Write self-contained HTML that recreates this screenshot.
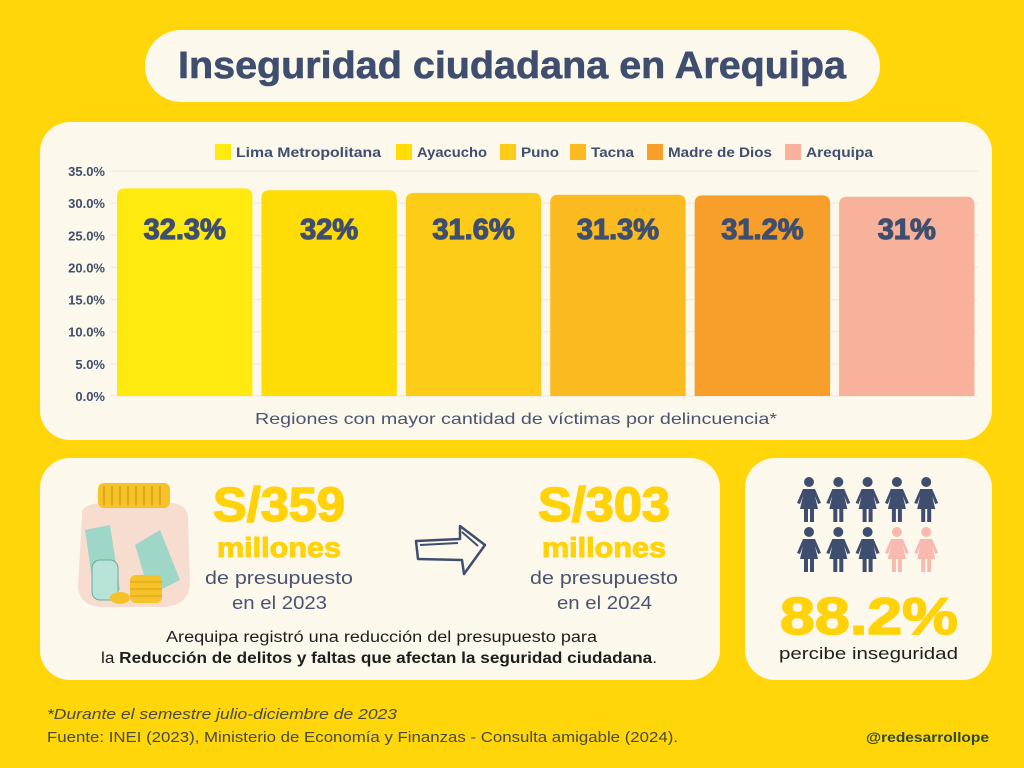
<!DOCTYPE html>
<html lang="es">
<head>
<meta charset="utf-8">
<title>Inseguridad ciudadana en Arequipa</title>
<style>
  html,body{margin:0;padding:0;background:#FFD60A;}
  svg{display:block;font-family:"Liberation Sans",sans-serif;}
</style>
</head>
<body>
<svg id="page" width="1024" height="768" viewBox="0 0 1024 768">
  <rect x="0" y="0" width="1024" height="768" fill="#FFD60A"/>

  <rect x="145" y="30" width="735" height="72" rx="36" fill="#FCF8EC"/>
  <text x="178" y="78" textLength="668" lengthAdjust="spacingAndGlyphs" font-size="38" font-weight="bold" fill="#3F4E6E" stroke="#3F4E6E" stroke-width="0.6">Inseguridad ciudadana en Arequipa</text>

  <rect x="40" y="122" width="952" height="318" rx="30" fill="#FCF8EC"/>
  <g id="chart"></g>
  <text x="255" y="424" textLength="522" lengthAdjust="spacingAndGlyphs" font-size="16" fill="#4A5470">Regiones con mayor cantidad de víctimas por delincuencia*</text>

  <rect x="40" y="458" width="680" height="222" rx="30" fill="#FCF8EC"/>
  <g>
    <path d="M82 515 Q80 505 100 503 L172 503 Q188 505 188 518 L190 585 Q188 605 165 607 L100 607 Q80 605 78 588 Z" fill="#F7DDD0"/>
    <rect x="98" y="483" width="72" height="25" rx="6" fill="#F6C22A"/>
    <path d="M104 486 V505 M112 486 V505 M120 486 V505 M128 486 V505 M136 486 V505 M144 486 V505 M152 486 V505 M160 486 V505" stroke="#D9A012" stroke-width="1.5"/>
    <path d="M85 530 L110 525 L120 590 L95 598 Z" fill="#9ED6C8"/>
    <path d="M135 545 L160 530 L180 580 L150 595 Z" fill="#9ED6C8"/>
    <rect x="92" y="560" width="26" height="40" rx="8" fill="#B8E3D8" stroke="#6AA9A0"/>
    <rect x="130" y="575" width="32" height="28" rx="6" fill="#F6C22A"/>
    <path d="M130 582 H162 M130 589 H162 M130 596 H162" stroke="#D9A012"/>
    <ellipse cx="120" cy="598" rx="10" ry="6" fill="#F6C22A"/>
  </g>
  <text x="213" y="521" textLength="132" lengthAdjust="spacingAndGlyphs" font-size="48" font-weight="900" fill="#FFD20A" stroke="#FFD20A" stroke-width="1.5">S/359</text>
  <text x="217" y="557" textLength="124" lengthAdjust="spacingAndGlyphs" font-size="28" font-weight="900" fill="#FFD20A" stroke="#FFD20A" stroke-width="1">millones</text>
  <text x="205" y="584" textLength="148" lengthAdjust="spacingAndGlyphs" font-size="18" fill="#4A5470">de presupuesto</text>
  <text x="232" y="609" textLength="95" lengthAdjust="spacingAndGlyphs" font-size="18" fill="#4A5470">en el 2023</text>

  <g fill="none" stroke="#3F4E6E" stroke-width="2.5" stroke-linejoin="round">
    <path d="M416 541 L460 539 L460 526 L485 545 L464 574 L462 560 L418 559 Z"/>
    <path d="M420 545 L458 543 M462 532 L478 546" stroke-width="2"/>
  </g>

  <text x="538" y="521" textLength="132" lengthAdjust="spacingAndGlyphs" font-size="48" font-weight="900" fill="#FFD20A" stroke="#FFD20A" stroke-width="1.5">S/303</text>
  <text x="542" y="557" textLength="124" lengthAdjust="spacingAndGlyphs" font-size="28" font-weight="900" fill="#FFD20A" stroke="#FFD20A" stroke-width="1">millones</text>
  <text x="530" y="584" textLength="148" lengthAdjust="spacingAndGlyphs" font-size="18" fill="#4A5470">de presupuesto</text>
  <text x="557" y="609" textLength="95" lengthAdjust="spacingAndGlyphs" font-size="18" fill="#4A5470">en el 2024</text>

  <text x="166" y="642" textLength="431" lengthAdjust="spacingAndGlyphs" font-size="15.5" fill="#1E1E1E">Arequipa registró una reducción del presupuesto para</text>
  <text x="101" y="663" textLength="556" lengthAdjust="spacingAndGlyphs" font-size="15.5" fill="#1E1E1E">la <tspan font-weight="bold">Reducción de delitos y faltas que afectan la seguridad ciudadana</tspan>.</text>

  <rect x="745" y="458" width="247" height="222" rx="30" fill="#FCF8EC"/>
  <g id="people"></g>
  <text x="780" y="634" textLength="178" lengthAdjust="spacingAndGlyphs" font-size="52" font-weight="900" fill="#FFD20A" stroke="#FFD20A" stroke-width="1.5">88.2%</text>
  <text x="779" y="659" textLength="179" lengthAdjust="spacingAndGlyphs" font-size="16.5" fill="#1E1E1E">percibe inseguridad</text>

  <text x="47" y="719" textLength="350" lengthAdjust="spacingAndGlyphs" font-size="15" font-style="italic" fill="#4A4A3A">*Durante el semestre julio-diciembre de 2023</text>
  <text x="47" y="742" textLength="631" lengthAdjust="spacingAndGlyphs" font-size="15" fill="#4A4A3A">Fuente: INEI (2023), Ministerio de Economía y Finanzas - Consulta amigable (2024).</text>
  <text x="866" y="742" textLength="123" lengthAdjust="spacingAndGlyphs" font-size="14" font-weight="bold" fill="#2F4A2A">@redesarrollope</text>
</svg>

<script>
const categories = ["Lima Metropolitana","Ayacucho","Puno","Tacna","Madre de Dios","Arequipa"];
const values = [32.3, 32, 31.6, 31.3, 31.2, 31];
const valueLabels = ["32.3%","32%","31.6%","31.3%","31.2%","31%"];
const colors = ["#FFEA10","#FFDC05","#FDCC18","#FBBB20","#F89E2B","#F8B19A"];
const ticks = [0,5,10,15,20,25,30,35];
const tickLabels = ["0.0%","5.0%","10.0%","15.0%","20.0%","25.0%","30.0%","35.0%"];
const legendX = [215, 396, 500, 570, 647, 785];
const legendW = [145, 70, 38, 43, 104, 67];
const peopleColors = ["#3F4E6E","#3F4E6E","#3F4E6E","#3F4E6E","#3F4E6E","#3F4E6E","#3F4E6E","#3F4E6E","#F7B9B0","#F7B9B0"];

const NS = "http://www.w3.org/2000/svg";
const chart = document.getElementById("chart");
const plotLeft = 117, plotRight = 983.5, y0 = 396, yTop = 171, yMax = 35;
function yScale(v){ return y0 - (v / yMax) * (y0 - yTop); }
const step = (plotRight - plotLeft) / categories.length;
const barW = step - 9;
function xScale(i){ return plotLeft + i * step; }
function mk(tag, attrs){ const e = document.createElementNS(NS, tag); for (const k in attrs) e.setAttribute(k, attrs[k]); return e; }

ticks.forEach((t, i) => {
  const y = yScale(t);
  const gl = mk("line", {x1: 110, x2: 978, y1: y, y2: y, stroke: "#EFE9D8", "stroke-width": 1});
  
  
  chart.appendChild(gl);
  const tx = mk("text", {x: 105, y: y + 5, "text-anchor": "end", "font-size": 13, "font-weight": "bold", fill: "#3F4E6E"});
  tx.textContent = tickLabels[i];
  
  
  chart.appendChild(tx);
});

values.forEach((v, i) => {
  const x = xScale(i), y = yScale(v);
  const bar = mk("path", {d: `M${x} ${y0} V${y+8} Q${x} ${y} ${x+8} ${y} H${x+barW-8} Q${x+barW} ${y} ${x+barW} ${y+8} V${y0} Z`, fill: colors[i]});
  
  
  chart.appendChild(bar);
  const lbl = mk("text", {x: x + barW / 2, y: 239, "text-anchor": "middle", "font-size": 29, "font-weight": "900", fill: "#3F4E6E", stroke: "#3F4E6E", "stroke-width": 1.2});
  lbl.textContent = valueLabels[i];
  
  
  chart.appendChild(lbl);
  const sw = mk("rect", {x: legendX[i], y: 144, width: 16, height: 16, fill: colors[i]});
  
  
  chart.appendChild(sw);
  const lt = mk("text", {x: legendX[i] + 21, y: 157, "font-size": 13.5, "font-weight": "bold", fill: "#3F4E6E", textLength: legendW[i], lengthAdjust: "spacingAndGlyphs"});
  lt.textContent = categories[i];
  
  
  chart.appendChild(lt);
});

const people = document.getElementById("people");
peopleColors.forEach((c, i) => {
  const cx = 809 + (i % 5) * 29.3, top = 476 + Math.floor(i / 5) * 50;
  const g = mk("g", {fill: c});
  
  
  g.appendChild(mk("circle", {cx: cx, cy: top + 6, r: 5}));
  g.appendChild(mk("path", {d: `M${cx-6} ${top+13} H${cx+6} L${cx+12} ${top+27} L${cx+9} ${top+28} L${cx+6} ${top+20} L${cx+9} ${top+33} H${cx-9} L${cx-6} ${top+20} L${cx-9} ${top+28} L${cx-12} ${top+27} Z`}));
  g.appendChild(mk("rect", {x: cx - 5, y: top + 32, width: 4, height: 14}));
  g.appendChild(mk("rect", {x: cx + 1, y: top + 32, width: 4, height: 14}));
  people.appendChild(g);
});
</script>
</body>
</html>
